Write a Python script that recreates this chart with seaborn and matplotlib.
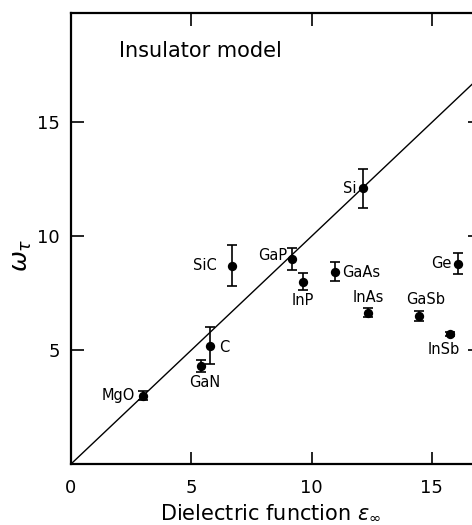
import matplotlib
matplotlib.use("Agg")
import matplotlib.pyplot as plt
import seaborn as sns
import numpy as np
import pandas as pd

# ---- data ----
materials = ["MgO", "GaN", "C", "SiC", "GaP", "InP", "GaAs", "InAs", "GaSb", "InSb", "Ge", "Si"]
eps_inf = [3.0, 5.42, 5.78, 6.68, 9.18, 9.65, 10.99, 12.36, 14.48, 15.76, 16.1, 12.15]
omega_tau = [3.0, 4.3, 5.2, 8.7, 9.0, 8.0, 8.45, 6.65, 6.5, 5.7, 8.8, 12.1]
err = [0.2, 0.25, 0.8, 0.9, 0.5, 0.38, 0.42, 0.2, 0.2, 0.1, 0.45, 0.85]
# label offsets (pixels) and alignment
label_dx = [-8, 3, 9, -15, -5, 0, 7, 0, 6, -6, -7, -7]
label_dy = [0, -16, -2, 0, 3, -19, -1, 15, 16, -15, 0, 0]
label_ha = ["right", "center", "left", "right", "right", "center", "left", "center", "center", "center", "right", "right"]

line_x = [0, 20]
line_y = [0, 20]

x_ticks = [0, 5, 10, 15]
y_ticks = [5, 10, 15]

df = pd.DataFrame({"material": materials, "eps": eps_inf, "omega": omega_tau, "err": err})
line_df = pd.DataFrame({"x": line_x, "y": line_y})

sns.set_style("ticks")
plt.rcParams["font.family"] = ["DejaVu Sans"]
plt.rcParams["mathtext.fontset"] = "dejavusans"
for k in ["text.color", "axes.edgecolor", "axes.labelcolor", "xtick.color", "ytick.color"]:
    plt.rcParams[k] = "black"

W, H = 472, 525
fig = plt.figure(figsize=(W / 100, H / 100), dpi=100)
ax = fig.add_axes([71 / W, 61 / H, 409 / W, 451 / H])

sns.lineplot(data=line_df, x="x", y="y", ax=ax, color="black", linewidth=1.0)
ax.errorbar(df["eps"], df["omega"], yerr=df["err"], fmt="none", ecolor="black",
            elinewidth=1.2, capsize=3.5, capthick=1.2)
sns.scatterplot(data=df, x="eps", y="omega", ax=ax, color="black", s=45,
                edgecolor="black", linewidth=0, zorder=5)

for m, xx, yy, dx, dy, ha in zip(materials, eps_inf, omega_tau, label_dx, label_dy, label_ha):
    ax.annotate(m, (xx, yy), xytext=(dx, dy), textcoords="offset pixels",
                ha=ha, va="center", fontsize=10.5, color="black")

ax.text(2.0, 18.15, "Insulator model", fontsize=15, ha="left", va="center", color="black")

ax.set_xlim(0, 17)
ax.set_ylim(0, 19.8)
ax.set_xticks(x_ticks)
ax.set_yticks(y_ticks)
ax.tick_params(direction="in", length=9, width=1.2, labelsize=13,
               top=True, right=True, pad=8, colors="black")
ax.tick_params(axis="x", pad=11)
for s in ax.spines.values():
    s.set_linewidth(1.6)
    s.set_visible(True)
    s.set_color("black")

ax.set_xlabel(r"Dielectric function $\epsilon_\infty$", fontsize=15, color="black")
ax.xaxis.set_label_coords(0.487, -0.086)
ax.set_ylabel(r"$\omega_\tau$", fontsize=18, color="black")
ax.yaxis.set_label_coords(-0.09, 0.463)

fig.savefig("out.png", dpi=100)
